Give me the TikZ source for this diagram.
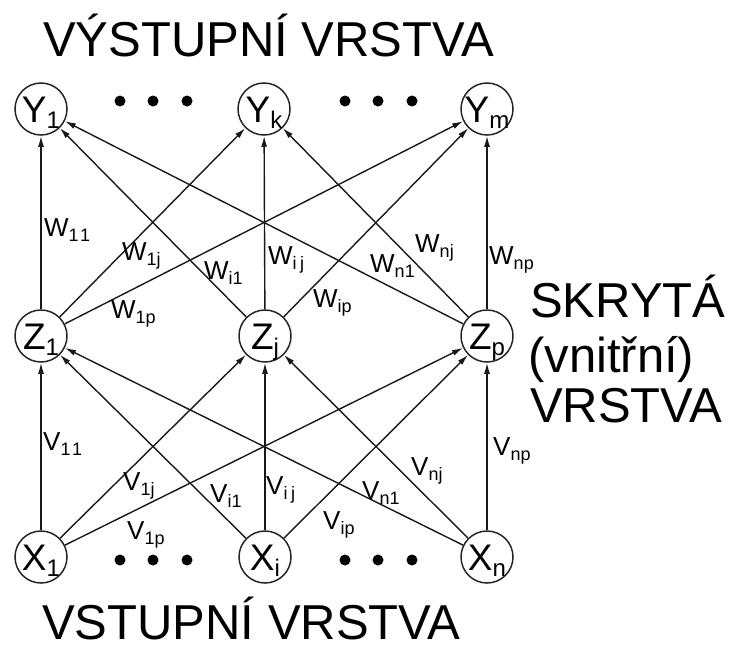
\documentclass[tikz,border=0pt]{standalone}
\usepackage{fontspec}
\setmainfont{Liberation Sans}
\usetikzlibrary{arrows.meta}
% neuron symbol: large letter with a lowered index
\newcommand{\unitname}[2]{{\fontsize{37}{37}\selectfont #1}\raisebox{-6pt}{\fontsize{24}{24}\selectfont #2}}
% weight symbol on a connection
\newcommand{\wname}[2]{{\fontsize{26}{26}\selectfont #1}\raisebox{-5pt}{\fontsize{18}{18}\selectfont #2}}
\begin{document}
\begin{tikzpicture}[x=1pt,y=-1pt,
  neuron/.style={circle,draw=black!85,line width=1.5pt,minimum size=52pt,
    inner sep=0pt,text height=26.5pt,text depth=0pt},
  link/.style={draw=black!90,line width=1.4pt,-{Latex[length=11pt,width=6pt]}},
  wlabel/.style={anchor=base west,inner sep=0pt},
  layer/.style={anchor=base west,inner sep=0pt,font=\fontsize{49}{52}\selectfont},
  dotfill/.style={fill=black}]
\useasboundingbox (0,0) rectangle (730,648);

% output layer
\node[neuron] (y1) at (41,109) {\unitname{Y}{1}};
\node[neuron] (yk) at (264,109) {\unitname{Y}{k}};
\node[neuron] (ym) at (487,109) {\unitname{Y}{m}};
% hidden layer
\node[neuron] (z1) at (41,336) {\unitname{Z}{1}};
\node[neuron] (zj) at (265,336) {\unitname{Z}{j}};
\node[neuron] (zp) at (487,336) {\unitname{Z}{p}};
% input layer
\node[neuron] (x1) at (41,557) {\unitname{X}{1}};
\node[neuron] (xi) at (265,557) {\unitname{X}{i}};
\node[neuron] (xn) at (487,557) {\unitname{X}{n}};

% ellipsis dots between the units
\foreach \x in {120,153,187,345,378,412} {
  \fill[dotfill] (\x,101) circle (5.5pt);
  \fill[dotfill] (\x,560) circle (5.5pt);
}

% hidden -> output connections
\foreach \z in {z1,zj,zp}
  \foreach \y in {y1,yk,ym}
    \draw[link] (\z) -- (\y);
% input -> hidden connections
\foreach \x in {x1,xi,xn}
  \foreach \z in {z1,zj,zp}
    \draw[link] (\x) -- (\z);

% weights W
\node[wlabel] (w11) at (44,236) {\wname{W}{1\hspace{1.5pt}1}};
\node[wlabel] (w1j) at (122,260) {\wname{W}{1j}};
\node[wlabel] (w1p) at (111,318) {\wname{W}{1p}};
\node[wlabel] (wi1) at (204,279) {\wname{W}{i1}};
\node[wlabel] (wij) at (268,264) {\wname{W}{i\hspace{3.5pt}j}};
\node[wlabel] (wip) at (313,307) {\wname{W}{ip}};
\node[wlabel] (wn1) at (370,272) {\wname{W}{n1}};
\node[wlabel] (wnj) at (415,252) {\wname{W}{nj}};
\node[wlabel] (wnp) at (489,264) {\wname{W}{np}};

% weights V
\node[wlabel] (v11) at (43,450) {\wname{V}{1\hspace{1.5pt}1}};
\node[wlabel] (v1j) at (123,490) {\wname{V}{1j}};
\node[wlabel] (v1p) at (127,539) {\wname{V}{1p}};
\node[wlabel] (vi1) at (210,502) {\wname{V}{i1}};
\node[wlabel] (vij) at (266,494) {\wname{V}{i\hspace{3.5pt}j}};
\node[wlabel] (vip) at (323,529) {\wname{V}{ip}};
\node[wlabel] (vn1) at (362,499) {\wname{V}{n1}};
\node[wlabel] (vnj) at (411,475) {\wname{V}{nj}};
\node[wlabel] (vnp) at (493,455) {\wname{V}{np}};

% layer captions
\node[layer] (tout) at (43,56) {VÝSTUPNÍ VRSTVA};
\node[layer] (tin) at (42,639) {VSTUPNÍ VRSTVA};
\node[layer] (th1) at (530,317) {SKRYTÁ};
\node[layer] (th2) at (528,372) {(vnitřní)};
\node[layer] (th3) at (530,422) {VRSTVA};
\end{tikzpicture}
\end{document}
